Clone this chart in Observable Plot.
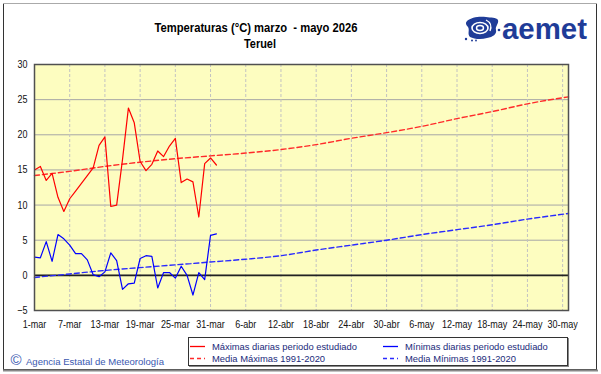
<!DOCTYPE html>
<html><head><meta charset="utf-8">
<script src="https://cdn.jsdelivr.net/npm/d3@7"></script>
<script src="https://cdn.jsdelivr.net/npm/@observablehq/plot@0.6"></script>
<style>
body{margin:0;background:#fff;}
#wrap{position:relative;width:601px;height:374px;overflow:hidden;background:#fff;}
#wrap > svg{position:absolute;left:0;top:0;}
</style></head>
<body><div id="wrap"></div>
<script>
// Día 0 = 1 de marzo de 2026
const maxDiarias = [15.0, 15.5, 13.5, 14.5, 11.1, 9.1, 10.9, 12.0, 13.1, 14.2, 15.3, 18.5, 19.7, 9.8, 10.0, 16.5,
  23.8, 21.7, 16.2, 14.9, 15.8, 17.7, 16.9, 18.4, 19.5, 13.2, 13.7, 13.3, 8.3, 15.9, 16.7, 15.7];
const minDiarias = [2.6, 2.5, 4.8, 2.0, 5.8, 5.2, 4.3, 3.1, 3.1, 2.2, 0.1, -0.2, 0.5, 3.2, 2.1, -2.0,
  -1.2, -1.1, 2.4, 2.8, 2.7, -1.8, 0.4, 0.4, -0.4, 1.3, 0.0, -2.8, 0.4, -0.6, 5.7, 5.9];
const normalDias = [0, 6, 12, 18, 24, 30, 36, 42, 48, 54, 60, 66, 72, 78, 84, 91];
const mediaMaximas = [14.2, 14.8, 15.5, 16.1, 16.6, 17.0, 17.4, 17.9, 18.6, 19.5, 20.3, 21.2, 22.3, 23.3, 24.4, 25.4];
const mediaMinimas = [-0.3, 0.2, 0.7, 1.1, 1.5, 1.9, 2.3, 2.8, 3.6, 4.3, 5.0, 5.8, 6.5, 7.2, 8.0, 8.8];
const tickDias = [0, 6, 12, 18, 24, 30, 36, 42, 48, 54, 60, 66, 72, 78, 84, 90];
const tickLabels = ["1-mar","7-mar","13-mar","19-mar","25-mar","31-mar","6-abr","12-abr","18-abr","24-abr","30-abr","6-may","12-may","18-may","24-may","30-may"];
const yTicks = [-5, 0, 5, 10, 15, 20, 25, 30];
const titulo = "Temperaturas (°C) marzo  - mayo 2026";
const estacion = "Teruel";
const leyenda = ["Máximas diarias periodo estudiado", "Media Máximas 1991-2020", "Mínimas diarias periodo estudiado", "Media Mínimas 1991-2020"];
const pie = "Agencia Estatal de Meteorología";

const maxRows = maxDiarias.map((t, i) => ({dia: i, t}));
const minRows = minDiarias.map((t, i) => ({dia: i, t}));
const normRows = normalDias.map((d, i) => ({dia: d, max: mediaMaximas[i], min: mediaMinimas[i]}));

const FONT = "'Liberation Sans', Arial, sans-serif";

const chart = Plot.plot({
  width: 601, height: 374,
  marginLeft: 34, marginRight: 33, marginTop: 64, marginBottom: 64,
  style: {background: "transparent", fontFamily: FONT, fontSize: "11px", color: "#111", overflow: "visible"},
  x: {domain: [0, 91], label: null},
  y: {domain: [-5, 30], label: null},
  marks: [
    Plot.frame({fill: "#fdfdc0", stroke: null}),
    Plot.gridY({ticks: yTicks, stroke: "#a6a6a6", strokeOpacity: 1}),
    Plot.gridX({ticks: tickDias, stroke: "#c2c2c2", strokeOpacity: 1, strokeDasharray: "3,2"}),
    Plot.ruleY([0], {stroke: "#222", strokeWidth: 1.6}),
    Plot.line(normRows, {x: "dia", y: "max", stroke: "#ff2a2a", strokeWidth: 1.4, strokeDasharray: "5,3", curve: "monotone-x"}),
    Plot.line(normRows, {x: "dia", y: "min", stroke: "#2a2aff", strokeWidth: 1.4, strokeDasharray: "5,3", curve: "monotone-x"}),
    Plot.line(maxRows, {x: "dia", y: "t", stroke: "#ff0000", strokeWidth: 1.2}),
    Plot.line(minRows, {x: "dia", y: "t", stroke: "#0000ff", strokeWidth: 1.2}),
    Plot.frame({stroke: "#505050", strokeWidth: 1.5}),
    Plot.axisX({ticks: tickDias, tickSize: 0, tickPadding: 10, tickFormat: d => tickLabels[tickDias.indexOf(d)]}),
    Plot.axisY({ticks: yTicks, tickSize: 0, tickPadding: 7})
  ]
});
const wrap = document.getElementById("wrap");
wrap.appendChild(chart);

// Condensar las etiquetas (tipografía estrecha del original)
d3.select(chart).selectAll("g[aria-label$='tick label'] text").each(function() {
  const len = this.getComputedTextLength();
  this.setAttribute("textLength", (len * 0.82).toFixed(1));
  this.setAttribute("lengthAdjust", "spacingAndGlyphs");
});

// Capa de decoración: marco, título, logotipo, leyenda y pie
const NS = "http://www.w3.org/2000/svg";
const ov = d3.select(wrap).append("svg").attr("width", 601).attr("height", 374)
  .style("font-family", FONT);

ov.append("rect").attr("x", 3.5).attr("y", 3.5).attr("width", 593).attr("height", 366)
  .attr("fill", "none").attr("stroke", "#333");
ov.append("line").attr("x1", 3).attr("x2", 597).attr("y1", 3.5).attr("y2", 3.5).attr("stroke", "#aaa");
ov.append("line").attr("x1", 3).attr("x2", 598).attr("y1", 370.5).attr("y2", 370.5).attr("stroke", "#888").attr("stroke-width", 2);

ov.append("text").attr("x", 256).attr("y", 31.5).attr("text-anchor", "middle")
  .attr("font-weight", "bold").attr("font-size", 13).attr("fill", "#000")
  .attr("textLength", 203).attr("lengthAdjust", "spacingAndGlyphs").style("white-space", "pre").text(titulo);
ov.append("text").attr("x", 260).attr("y", 47.5).attr("text-anchor", "middle")
  .attr("font-weight", "bold").attr("font-size", 13).attr("fill", "#000")
  .attr("textLength", 32).attr("lengthAdjust", "spacingAndGlyphs").text(estacion);

// Logotipo
const logo = ov.append("g");
const azul = "#1f3c98";
logo.append("path").attr("fill", azul)
  .attr("d", "M467,21 C471,17 480,16 486,17 C491,18 496,17 498,20 C499,24 495,26 496,30 C497,34 493,37 487,38 C481,40 474,39 470,37 C467,34 470,30 468,27 C466,25 465,23 467,21 Z");
logo.append("ellipse").attr("cx", 480).attr("cy", 28).attr("rx", 8).attr("ry", 5.5).attr("fill", "none").attr("stroke", "#fff").attr("stroke-width", 1.6);
logo.append("ellipse").attr("cx", 480).attr("cy", 28).attr("rx", 3.5).attr("ry", 2.5).attr("fill", "none").attr("stroke", "#fff").attr("stroke-width", 1.4);
logo.append("path").attr("d", "M486,20 C490,22 492,26 490,31").attr("fill", "none").attr("stroke", "#fff").attr("stroke-width", 1.3);
[[466, 39, 1.2], [472, 40.5, 1], [476, 40.5, 0.9], [499, 30, 1.3]].forEach(([x, y, r]) =>
  logo.append("circle").attr("cx", x).attr("cy", y).attr("r", r).attr("fill", azul));
ov.append("text").attr("x", 502).attr("y", 38.5).attr("font-weight", "bold").attr("font-size", 29)
  .attr("fill", azul).attr("textLength", 85).attr("lengthAdjust", "spacingAndGlyphs").text("aemet");

// Leyenda
ov.append("rect").attr("x", 188.5).attr("y", 337.5).attr("width", 379).attr("height", 28)
  .attr("fill", "#fff").attr("stroke", "#333");
ov.append("line").attr("x1", 568.5).attr("x2", 568.5).attr("y1", 338).attr("y2", 367).attr("stroke", "#888");
ov.append("line").attr("x1", 189).attr("x2", 569).attr("y1", 366.5).attr("y2", 366.5).attr("stroke", "#888");
const items = [
  {x: 190, y: 346.5, c: "#ff0000", dash: null, t: leyenda[0]},
  {x: 190, y: 358.5, c: "#ff2a2a", dash: "4,3", t: leyenda[1]},
  {x: 383, y: 346.5, c: "#0000ff", dash: null, t: leyenda[2]},
  {x: 383, y: 358.5, c: "#2a2aff", dash: "4,3", t: leyenda[3]}
];
items.forEach(it => {
  ov.append("line").attr("x1", it.x).attr("x2", it.x + 15).attr("y1", it.y).attr("y2", it.y)
    .attr("stroke", it.c).attr("stroke-width", 1.3).attr("stroke-dasharray", it.dash);
  ov.append("text").attr("x", it.x + 22).attr("y", it.y + 3.3).attr("font-size", 9.4)
    .attr("fill", "#1a2a7a").text(it.t);
});

// Pie
ov.append("text").attr("x", 16).attr("y", 365).attr("text-anchor", "middle").attr("font-size", 15)
  .attr("fill", "#3a58b0").text("©");
ov.append("text").attr("x", 26).attr("y", 364.5).attr("font-size", 9.6).attr("fill", "#3a58b0")
  .attr("textLength", 138).attr("lengthAdjust", "spacingAndGlyphs").text(pie);
</script>
</body></html>
